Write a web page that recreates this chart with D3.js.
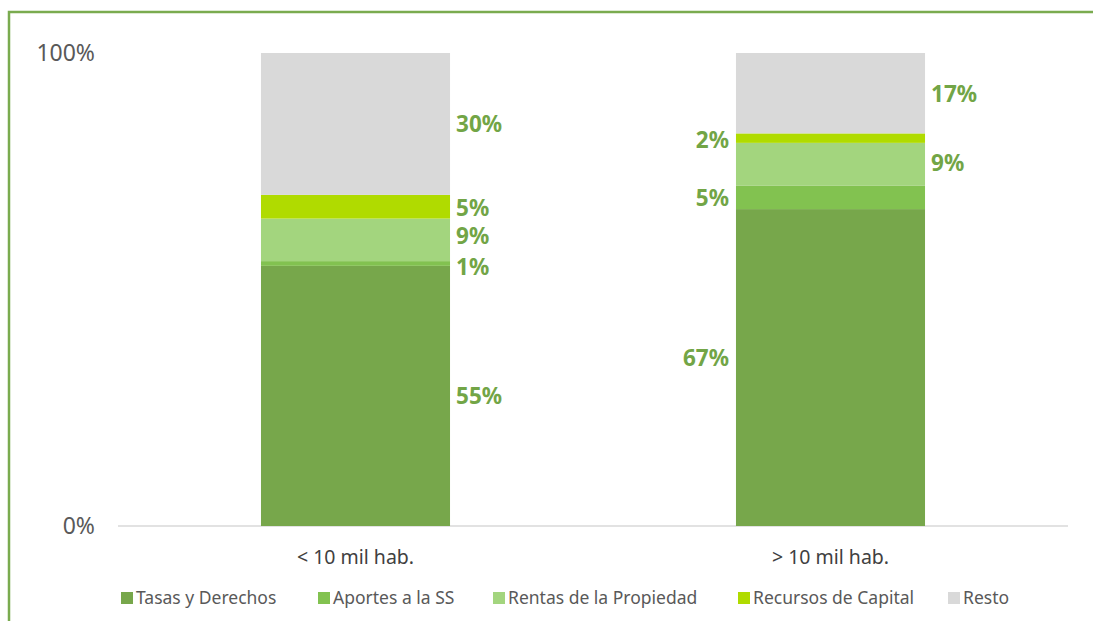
<!DOCTYPE html>
<html>
<head>
<meta charset="utf-8">
<script src="https://cdn.jsdelivr.net/npm/d3@7"></script>
<style>
  body { margin: 0; background: #fff; }
  svg { display: block; font-family: "Noto Sans", "Open Sans", sans-serif; }
</style>
</head>
<body>
<div id="chart"></div>
<script>
// categories and series (shares in %)
const categories = ["< 10 mil hab.", "> 10 mil hab."];
const seriesNames = ["Tasas y Derechos", "Aportes a la SS", "Rentas de la Propiedad", "Recursos de Capital", "Resto"];
const tasas = [55, 67];
const aportes = [1, 5];
const rentas = [9, 9];
const recursos = [5, 2];
const resto = [30, 17];
const labelSide = [
    ["right", "right", "right", "right", "right"],
    ["left", "left", "right", "left", "right"],
];
// small vertical nudges (px) so the labels don't collide, like the original
const labelNudge = [
    [0, 3, -4, 1, 0],
    [-10, 1, -1, 2, 1],
];
const yTicks = [0, 100];
const colors = ["#77a74b", "#82c250", "#a3d57e", "#b0db00", "#d9d9d9"];

let settings = {
    width: 1093,
    height: 621,
    left: 118,
    right: 1068,
    top: 53,
    bottom: 526,
    label_color: "#72a546",
};

function build_rows() {
    let values = [tasas, aportes, rentas, recursos, resto];
    return categories.map((cat, i) => {
        let row = {cat};
        seriesNames.forEach((s, j) => row[s] = values[j][i]);
        return row;
    });
}

function draw() {
    let svg = d3.select("#chart").append("svg")
        .attr("width", settings.width)
        .attr("height", settings.height);

    // frame
    svg.append("rect")
        .attr("x", 9).attr("y", 12)
        .attr("width", 1200).attr("height", 800)
        .attr("fill", "none")
        .attr("stroke", "#7aab4f")
        .attr("stroke-width", 2.5);

    let x = d3.scaleBand().domain(categories).range([settings.left, settings.right]).padding(0);
    let y = d3.scaleLinear().domain([0, 100]).range([settings.bottom, settings.top]);
    let barW = x.bandwidth() * 0.398;

    // baseline
    svg.append("line")
        .attr("x1", settings.left).attr("x2", settings.right)
        .attr("y1", y(0)).attr("y2", y(0))
        .attr("stroke", "#d9d9d9").attr("stroke-width", 1.5);

    // y tick labels
    svg.append("g").selectAll("text")
        .data(yTicks).enter().append("text")
        .attr("x", 95).attr("y", d => y(d))
        .attr("dy", "0.35em")
        .attr("text-anchor", "end")
        .attr("font-size", 23)
        .attr("fill", "#595959")
        .text(d => d + "%");

    let stacked = d3.stack().keys(seriesNames)(build_rows());

    let layers = svg.append("g").selectAll("g.layer")
        .data(stacked).enter().append("g")
        .attr("class", "layer")
        .attr("fill", (d, i) => colors[i]);

    layers.selectAll("rect")
        .data(d => d).enter().append("rect")
        .attr("x", d => x(d.data.cat) + (x.bandwidth() - barW) / 2)
        .attr("width", barW)
        .attr("y", d => y(d[1]))
        .attr("height", d => y(d[0]) - y(d[1]));

    // value labels
    stacked.forEach((layer, si) => {
        layer.forEach((d, ci) => {
            let side = labelSide[ci][si];
            let cx = x(d.data.cat) + x.bandwidth() / 2;
            svg.append("text")
                .attr("x", side === "right" ? cx + barW / 2 + 6 : cx - barW / 2 - 7)
                .attr("y", y((d[0] + d[1]) / 2) + labelNudge[ci][si])
                .attr("dy", "0.36em")
                .attr("text-anchor", side === "right" ? "start" : "end")
                .attr("font-size", 22.5)
                .attr("font-weight", "bold")
                .attr("fill", settings.label_color)
                .text((d[1] - d[0]) + "%");
        });
    });

    // category labels
    svg.append("g").selectAll("text")
        .data(categories).enter().append("text")
        .attr("x", d => x(d) + x.bandwidth() / 2)
        .attr("y", 557)
        .attr("dy", "0.35em")
        .attr("text-anchor", "middle")
        .attr("font-size", 19.5)
        .attr("fill", "#404040")
        .text(d => d);

    // legend
    let legendX = [121, 318, 493, 738, 948];
    let legend = svg.append("g").selectAll("g")
        .data(seriesNames).enter().append("g")
        .attr("transform", (d, i) => "translate(" + legendX[i] + ",598)");
    legend.append("rect")
        .attr("x", 0).attr("y", -6)
        .attr("width", 12).attr("height", 12)
        .attr("fill", (d, i) => colors[i]);
    legend.append("text")
        .attr("x", 15).attr("dy", "0.35em")
        .attr("font-size", 17.5)
        .attr("fill", "#595959")
        .text(d => d);
}

draw();
</script>
</body>
</html>
